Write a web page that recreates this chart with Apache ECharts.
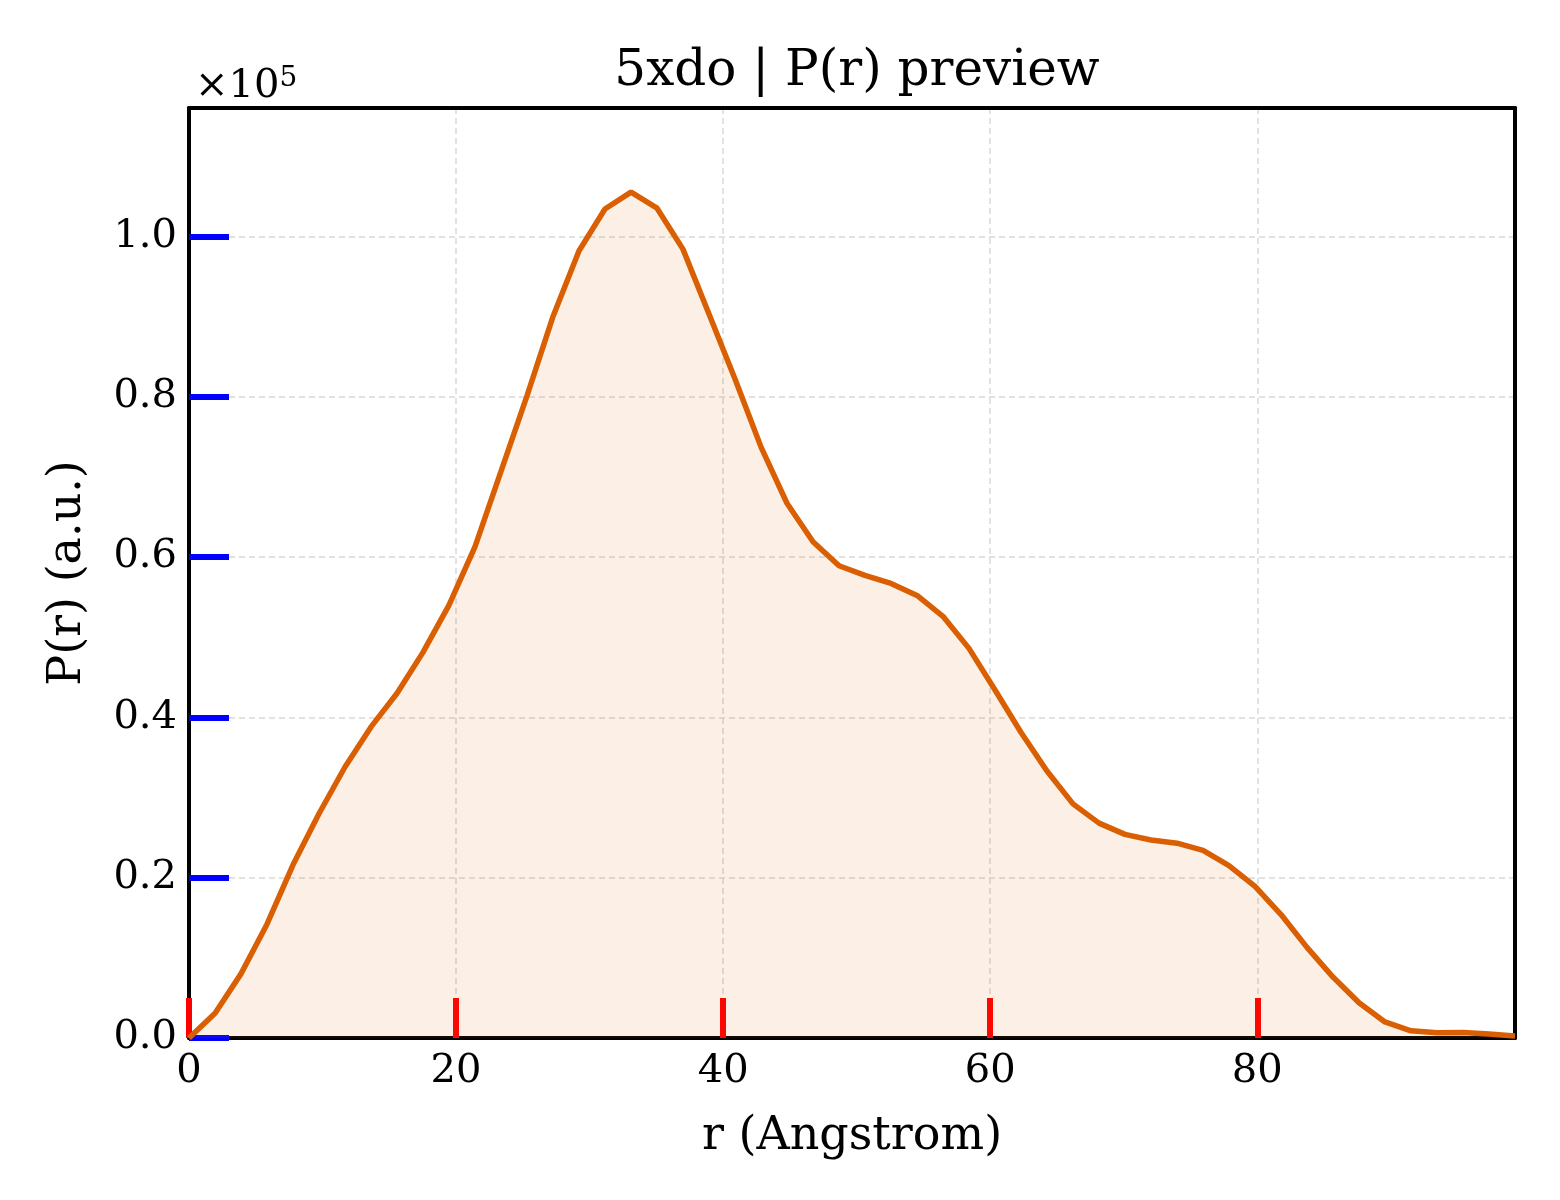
<!DOCTYPE html>
<html>
<head>
<meta charset="utf-8">
<title>5xdo | P(r) preview</title>
<script src="https://cdn.jsdelivr.net/npm/echarts@6.0.0/dist/echarts.min.js"></script>
<style>
    html, body { margin: 0; padding: 0; background: #fff; }
    #main { width: 1560px; height: 1200px; }
</style>
</head>
<body>
<div id="main"></div>
<script>
    // r grid (Angstrom)
    var rValues = [0, 1.95, 3.89, 5.84, 7.79, 9.74, 11.68, 13.63, 15.58, 17.52,
        19.47, 21.42, 23.37, 25.31, 27.26, 29.21, 31.15, 33.10, 35.05, 36.99,
        38.94, 40.89, 42.84, 44.78, 46.73, 48.68, 50.62, 52.57, 54.52, 56.46,
        58.41, 60.36, 62.31, 64.25, 66.20, 68.15, 70.09, 72.04, 73.99, 75.94,
        77.88, 79.83, 81.78, 83.72, 85.67, 87.62, 89.56, 91.51, 93.46, 95.41,
        97.35, 99.30];
    // P(r) in arbitrary units
    var prValues = [0, 3100, 8000, 14200, 21600, 28000, 33800, 38800, 43000, 48100,
        54000, 61300, 70700, 80100, 90000, 98200, 103400, 105500, 103500, 98400,
        90300, 82200, 73700, 66700, 61900, 58900, 57700, 56700, 55200, 52600,
        48600, 43400, 38100, 33300, 29200, 26800, 25400, 24700, 24300, 23400,
        21500, 18900, 15400, 11300, 7600, 4400, 2000, 900, 660, 700,
        500, 250];
    var xTicks = [0, 20, 40, 60, 80];
    var yScale = 1e5;

    var font = 'DejaVu Serif';
    var lineColor = '#d95f02';
    var xMax = rValues[rValues.length - 1];
    var yMax = 116000;

    var seriesData = [];
    for (var i = 0; i < rValues.length; i++) {
        seriesData.push([rValues[i], prValues[i]]);
    }

    var myChart = echarts.init(document.getElementById('main'), null, {renderer: 'canvas'});
    var option = {
        backgroundColor: '#fff',
        animation: false,
        title: [
            {
                text: '5xdo | P(r) preview',
                left: 852,
                top: 42,
                textAlign: 'center',
                textStyle: {fontFamily: font, fontSize: 50, fontWeight: 'normal', color: '#000'}
            },
            {
                text: '×10{sup|5}',
                left: 190,
                top: 60,
                textStyle: {
                    fontFamily: font, fontSize: 40, fontWeight: 'normal', color: '#000',
                    rich: {
                        sup: {fontFamily: font, fontSize: 28, color: '#000', verticalAlign: 'top', padding: [0, 0, 16, 0]}
                    }
                }
            }
        ],
        grid: {left: 189, right: 45, top: 108, bottom: 162},
        xAxis: [
            {
                type: 'value',
                min: 0,
                max: xMax,
                interval: 20,
                name: 'r (Angstrom)',
                nameLocation: 'middle',
                nameGap: 76,
                nameTextStyle: {fontFamily: font, fontSize: 46, color: '#000'},
                axisLine: {show: true, onZero: false, lineStyle: {color: '#000', width: 4}},
                axisTick: {show: true, inside: true, length: 40, lineStyle: {color: '#f00', width: 6}},
                axisLabel: {
                    fontFamily: font, fontSize: 40, color: '#000', margin: 14,
                    showMaxLabel: false,
                    formatter: function (v) { return xTicks.indexOf(v) >= 0 ? String(v) : ''; }
                },
                splitLine: {show: true, lineStyle: {color: '#d9d9d9', width: 1.5, type: [6, 4]}}
            },
            {
                type: 'value', position: 'top', min: 0, max: xMax,
                axisLine: {show: true, onZero: false, lineStyle: {color: '#000', width: 4}},
                axisTick: {show: false}, axisLabel: {show: false}, splitLine: {show: false}
            }
        ],
        yAxis: [
            {
                type: 'value',
                min: 0,
                max: yMax,
                interval: 20000,
                name: 'P(r) (a.u.)',
                nameLocation: 'middle',
                nameGap: 98,
                nameRotate: 90,
                nameTextStyle: {fontFamily: font, fontSize: 46, color: '#000'},
                axisLine: {show: true, onZero: false, lineStyle: {color: '#000', width: 4}},
                axisTick: {show: true, inside: true, length: 40, lineStyle: {color: '#00f', width: 6}},
                axisLabel: {
                    fontFamily: font, fontSize: 40, color: '#000', margin: 12,
                    showMaxLabel: false,
                    formatter: function (v) { return (v / yScale).toFixed(1); }
                },
                splitLine: {show: true, lineStyle: {color: '#d9d9d9', width: 1.5, type: [6, 4]}}
            },
            {
                type: 'value', position: 'right', min: 0, max: yMax,
                axisLine: {show: true, onZero: false, lineStyle: {color: '#000', width: 4}},
                axisTick: {show: false}, axisLabel: {show: false}, splitLine: {show: false}
            }
        ],
        series: [
            {
                name: 'P(r)',
                type: 'line',
                data: seriesData,
                showSymbol: false,
                smooth: false,
                lineStyle: {color: lineColor, width: 5.5},
                areaStyle: {color: 'rgba(217, 95, 2, 0.14)'}
            }
        ]
    };
    myChart.setOption(option);
</script>
</body>
</html>
